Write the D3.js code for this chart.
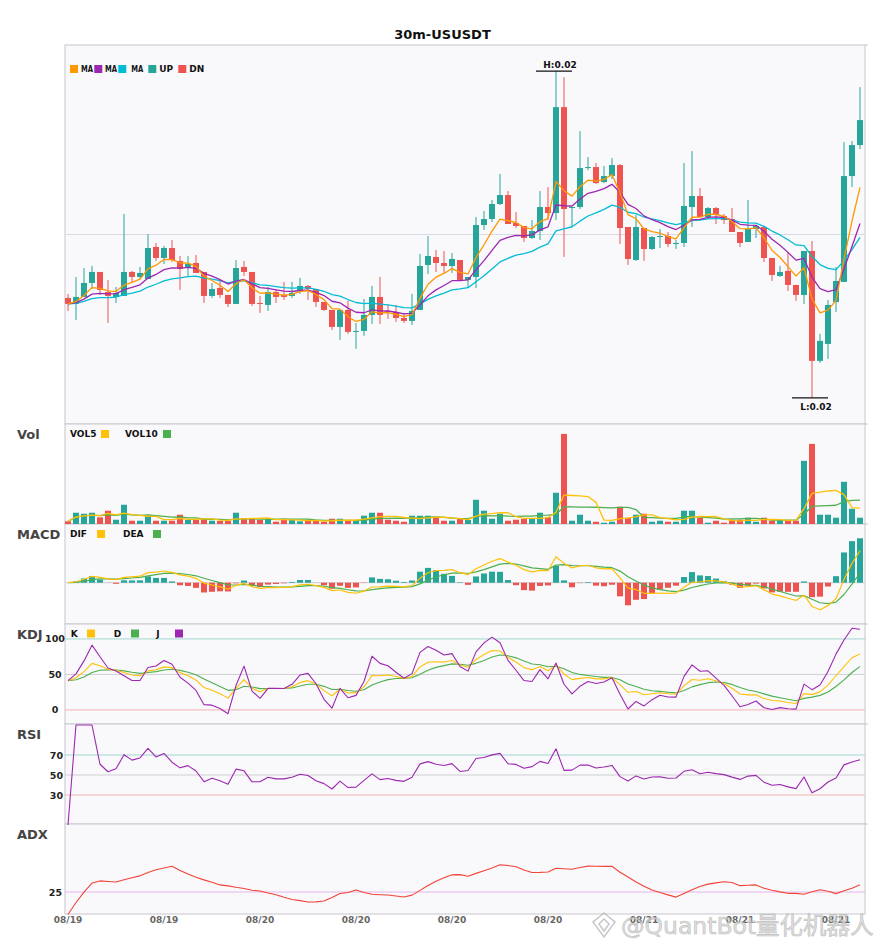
<!DOCTYPE html>
<html>
<head>
<meta charset="utf-8">
<script src="https://cdn.jsdelivr.net/npm/d3@7"></script>
<style>
  body { margin: 0; background: #fff; }
  svg { font-family: "DejaVu Sans", sans-serif; }
</style>
</head>
<body>
<div id="chart"></div>
<script>
const symbol = '30m-USUSDT';

// 30m candles, 08/19 12:00 -> 08/21 17:30
const open = [
  0.01936, 0.01930, 0.01937, 0.01951, 0.01962, 0.01942, 0.01937, 0.01938, 0.01962, 0.01957,
  0.01955, 0.01987, 0.01976, 0.01986, 0.01973, 0.01967, 0.01971, 0.01962, 0.01938, 0.01946,
  0.01939, 0.01930, 0.01967, 0.01962, 0.01931, 0.01929, 0.01942, 0.01939, 0.01938, 0.01943,
  0.01948, 0.01945, 0.01932, 0.01924, 0.01907, 0.01924, 0.01902, 0.01903, 0.01919, 0.01937,
  0.01923, 0.01922, 0.01916, 0.01913, 0.01924, 0.01969, 0.01977, 0.01971, 0.01968, 0.01974,
  0.01954, 0.01957, 0.02009, 0.02015, 0.02030, 0.02039, 0.02011, 0.02008, 0.01996, 0.02003,
  0.02027, 0.02021, 0.02127, 0.02026, 0.02027, 0.02066, 0.02067, 0.02052, 0.02058, 0.02069,
  0.02007, 0.01974, 0.02006, 0.01985, 0.01997, 0.01998, 0.01990, 0.01991, 0.02027, 0.02038,
  0.02017, 0.02026, 0.02018, 0.02015, 0.02002, 0.01992, 0.02005, 0.02007, 0.01976, 0.01958,
  0.01963, 0.01949, 0.01939, 0.01983, 0.01873, 0.01890, 0.01932, 0.01952, 0.02058, 0.02089
];
const high = [
  0.01940, 0.01957, 0.01966, 0.01968, 0.01962, 0.01954, 0.01947, 0.02020, 0.01963, 0.01967,
  0.02000, 0.01991, 0.01988, 0.01994, 0.01978, 0.01978, 0.01979, 0.01962, 0.01951, 0.01954,
  0.01939, 0.01974, 0.01973, 0.01962, 0.01938, 0.01947, 0.01945, 0.01952, 0.01952, 0.01956,
  0.01949, 0.01945, 0.01932, 0.01924, 0.01924, 0.01933, 0.01911, 0.01935, 0.01948, 0.01957,
  0.01929, 0.01929, 0.01921, 0.01940, 0.01980, 0.01998, 0.01984, 0.01983, 0.01981, 0.01974,
  0.01957, 0.02017, 0.02023, 0.02034, 0.02060, 0.02043, 0.02022, 0.02008, 0.02014, 0.02043,
  0.02047, 0.02163, 0.02157, 0.02027, 0.02103, 0.02077, 0.02071, 0.02068, 0.02076, 0.02070,
  0.02007, 0.02019, 0.02006, 0.01998, 0.02005, 0.02002, 0.01994, 0.02071, 0.02083, 0.02046,
  0.02027, 0.02027, 0.02020, 0.02026, 0.02002, 0.02034, 0.02008, 0.02008, 0.01976, 0.01968,
  0.01982, 0.01949, 0.01983, 0.01993, 0.01900, 0.01934, 0.01967, 0.02092, 0.02093, 0.02147
];
const low = [
  0.01923, 0.01914, 0.01937, 0.01945, 0.01939, 0.01911, 0.01931, 0.01938, 0.01952, 0.01955,
  0.01955, 0.01973, 0.01970, 0.01972, 0.01944, 0.01958, 0.01961, 0.01931, 0.01936, 0.01936,
  0.01927, 0.01930, 0.01958, 0.01928, 0.01921, 0.01923, 0.01931, 0.01934, 0.01936, 0.01940,
  0.01934, 0.01927, 0.01923, 0.01904, 0.01894, 0.01900, 0.01885, 0.01898, 0.01910, 0.01910,
  0.01915, 0.01912, 0.01911, 0.01909, 0.01924, 0.01960, 0.01962, 0.01961, 0.01961, 0.01953,
  0.01946, 0.01946, 0.02004, 0.02012, 0.02029, 0.02010, 0.02006, 0.01992, 0.01995, 0.01994,
  0.02014, 0.02014, 0.01977, 0.02008, 0.02025, 0.02064, 0.02050, 0.02051, 0.02055, 0.01990,
  0.01969, 0.01973, 0.01973, 0.01984, 0.01986, 0.01987, 0.01985, 0.01987, 0.02007, 0.02017,
  0.02015, 0.02010, 0.02010, 0.02002, 0.01987, 0.01992, 0.01996, 0.01972, 0.01953, 0.01957,
  0.01943, 0.01933, 0.01930, 0.01836, 0.01871, 0.01875, 0.01922, 0.01952, 0.02047, 0.02085
];
const close = [
  0.01930, 0.01937, 0.01951, 0.01962, 0.01944, 0.01938, 0.01941, 0.01962, 0.01957, 0.01961,
  0.01986, 0.01976, 0.01986, 0.01974, 0.01965, 0.01970, 0.01961, 0.01938, 0.01945, 0.01939,
  0.01930, 0.01966, 0.01962, 0.01930, 0.01930, 0.01942, 0.01937, 0.01937, 0.01941, 0.01948,
  0.01945, 0.01932, 0.01924, 0.01907, 0.01924, 0.01902, 0.01903, 0.01919, 0.01937, 0.01919,
  0.01922, 0.01916, 0.01913, 0.01923, 0.01968, 0.01978, 0.01971, 0.01968, 0.01975, 0.01954,
  0.01957, 0.02009, 0.02015, 0.02030, 0.02039, 0.02010, 0.02008, 0.01996, 0.02003, 0.02027,
  0.02021, 0.02127, 0.02025, 0.02027, 0.02066, 0.02067, 0.02051, 0.02058, 0.02069, 0.02006,
  0.01975, 0.02007, 0.01985, 0.01997, 0.01998, 0.01990, 0.01991, 0.02028, 0.02038, 0.02017,
  0.02026, 0.02019, 0.02014, 0.02002, 0.01991, 0.02005, 0.02008, 0.01976, 0.01959, 0.01962,
  0.01949, 0.01939, 0.01983, 0.01873, 0.01893, 0.01929, 0.01953, 0.02058, 0.02089, 0.02114
];
const volume = [
   27, 113, 103, 113,  67, 133,  43, 193,  33,  33,
   87,  33,  33,  33,  93,  40,  40,  50,  33,  30,
   30, 113,  53,  53,  40,  50,  23,  53,  40,  27,
   30,  30,  23,  53,  53,  30,  30,  83, 113, 113,
   43,  33,  23,  83,  83,  83,  67,  33,  33,  50,
   40, 243, 133,  53, 103,  33,  43,  50,  50, 113,
   67, 313, 903,  33,  93,  33,  23,  13,  23, 173,
   63,  93, 103,  23,  33,  23,  23, 133, 133,  63,
   13,  33,  13,  43,  43,  63,  23,  63,  33,  33,
   33,  33, 633, 803,  93,  93,  63, 423, 153,  63
];
const tickIndex = [0, 12, 24, 36, 48, 60, 72, 84, 96];
const tickLabels = ['08/19', '08/19', '08/20', '08/20', '08/20', '08/20', '08/21', '08/21', '08/21'];

const C = {
  up: '#26a69a', dn: '#ef5350',
  ma5: '#ff9800', ma10: '#9c27b0', ma20: '#00bcd4',
  yellow: '#ffc107', green: '#4caf50', purple: '#9c27b0', red: '#f44336',
  border: '#c6c6ce', bg: '#f9f9fb', grid: '#d9d9e3',
  hiLine: '#9fd6cf', midLine: '#cfcfd4', loLine: '#f6b3b3', adxRef: '#e2b6ea',
};

// ---- indicator helpers ----
function ema(vals, n) {
  const a = 2 / (n + 1);
  let prev;
  return vals.map((v, i) => (prev = i === 0 ? v : prev + a * (v - prev)));
}
function sma(vals, n) {
  return vals.map((_, i) => d3.mean(vals.slice(Math.max(0, i - n + 1), i + 1)));
}

const n = close.length;
const isUp = d3.range(n).map((i) => close[i] >= open[i]);

const ma5 = ema(close, 5);
const ma10 = ema(close, 10);
const ma20 = ema(close, 20);
const vol5 = sma(volume, 5);
const vol10 = sma(volume, 10);

// fast MACD (6, 13, 5)
const eFast = ema(close, 6);
const eSlow = ema(close, 13);
const dif = eFast.map((v, i) => v - eSlow[i]);
const dea = ema(dif, 5);
const hist = dif.map((v, i) => 2 * (v - dea[i]));

// KDJ (9, 3, 3)
const rsv = close.map((c, i) => {
  const hh = d3.max(high.slice(Math.max(0, i - 8), i + 1));
  const ll = d3.min(low.slice(Math.max(0, i - 8), i + 1));
  return hh === ll ? 50 : ((c - ll) / (hh - ll)) * 100;
});
const kLine = [], dLine = [], jLine = [];
rsv.forEach((r, i) => {
  const k = i === 0 ? r : (2 / 3) * kLine[i - 1] + r / 3;
  const d = i === 0 ? k : (2 / 3) * dLine[i - 1] + k / 3;
  kLine.push(k); dLine.push(d); jLine.push(3 * k - 2 * d);
});

// RSI 14 (Wilder)
const rsi = [0];
{
  let ag = 0, al = 0;
  for (let i = 1; i < n; i++) {
    const ch = close[i] - close[i - 1];
    ag += (Math.max(ch, 0) - ag) / 14;
    al += (Math.max(-ch, 0) - al) / 14;
    rsi.push(ag + al === 0 ? 0 : (100 * ag) / (ag + al));
  }
}

// ADX 14 (ema smoothing)
const adx = [0];
{
  const a14 = 2 / 15;
  let tr = 0, pdm = 0, mdm = 0, a = 0;
  for (let i = 1; i < n; i++) {
    const up = high[i] - high[i - 1];
    const dn = low[i - 1] - low[i];
    const p = up > dn && up > 0 ? up : 0;
    const m = dn > up && dn > 0 ? dn : 0;
    const t = Math.max(high[i] - low[i], Math.abs(high[i] - close[i - 1]), Math.abs(low[i] - close[i - 1]));
    tr += a14 * (t - tr); pdm += a14 * (p - pdm); mdm += a14 * (m - mdm);
    const pdi = (pdm / tr) * 100, mdi = (mdm / tr) * 100;
    const dx = pdi + mdi === 0 ? 0 : (Math.abs(pdi - mdi) / (pdi + mdi)) * 100;
    a += a14 * (dx - a);
    adx.push(a);
  }
}

// ---- layout ----
const width = 885, height = 950;
const plotL = 65, plotR = 865;
const panels = {
  main: [45, 424], vol: [424, 524], macd: [524, 624], kdj: [624, 724], rsi: [724, 824], adx: [824, 914],
};

const svg = d3.select('#chart').append('svg').attr('width', width).attr('height', height);

const x = d3.scaleBand().domain(d3.range(n)).range([plotL - 1, plotR - 1]).padding(0);
const xc = (i) => x(i) + x.bandwidth() / 2;
const barW = x.bandwidth() * 0.75;

svg.append('text').attr('x', width / 2).attr('y', 39).attr('text-anchor', 'middle')
  .attr('font-size', 13).attr('font-weight', 'bold').attr('fill', '#111').text(symbol);

Object.entries(panels).forEach(([, [t, b]]) => {
  svg.append('rect').attr('x', plotL).attr('y', t).attr('width', plotR - plotL).attr('height', b - t)
    .attr('fill', C.bg).attr('stroke', C.border).attr('stroke-width', 1);
  svg.append('line').attr('x1', plotR).attr('x2', plotR + 3).attr('y1', t).attr('y2', t)
    .attr('stroke', C.border).attr('stroke-width', 1);
});

const panelNames = [['vol', 'Vol'], ['macd', 'MACD'], ['kdj', 'KDJ'], ['rsi', 'RSI'], ['adx', 'ADX']];
panelNames.forEach(([key, label]) => {
  svg.append('text').attr('x', 17).attr('y', panels[key][0] + 15)
    .attr('font-size', 13).attr('font-weight', 'bold').attr('fill', '#444').text(label);
});

function legend(items, yc) {
  const g = svg.append('g').attr('font-size', 9).attr('font-weight', 'bold').attr('fill', '#111');
  items.forEach((it) => {
    const t = g.append('text').attr('x', it.tx).attr('y', yc + 3.3).text(it.label);
    if (it.fit) t.attr('textLength', it.fit).attr('lengthAdjust', 'spacingAndGlyphs');
    g.append('rect').attr('x', it.sq).attr('y', yc - 4).attr('width', 8).attr('height', 8).attr('fill', it.color);
  });
}

function line(g, vals, y, color, w = 1.1) {
  g.append('path').datum(vals)
    .attr('d', d3.line().x((_, i) => xc(i)).y((v) => y(v)))
    .attr('fill', 'none').attr('stroke', color).attr('stroke-width', w).attr('stroke-linejoin', 'round');
}

function refLine(g, y, v, color) {
  g.append('line').attr('x1', plotL).attr('x2', plotR).attr('y1', y(v)).attr('y2', y(v))
    .attr('stroke', color).attr('stroke-width', 1);
}

// ---- main candle panel ----
{
  const [t, b] = panels.main;
  const lo = d3.min(low), hi = d3.max(high);
  const pad = (hi - lo) * 0.08;
  const y = d3.scaleLinear().domain([lo - pad, hi + pad]).range([b, t]);
  const g = svg.append('g');
  refLine(g, y, (lo + hi) / 2, C.grid);

  const cg = g.append('g');
  d3.range(n).forEach((i) => {
    const col = isUp[i] ? C.up : C.dn;
    cg.append('line').attr('x1', xc(i)).attr('x2', xc(i)).attr('y1', y(high[i])).attr('y2', y(low[i]))
      .attr('stroke', col).attr('stroke-width', 1);
    const top = y(Math.max(open[i], close[i]));
    const bot = y(Math.min(open[i], close[i]));
    cg.append('rect').attr('x', xc(i) - barW / 2).attr('y', top).attr('width', barW)
      .attr('height', Math.max(1, bot - top)).attr('fill', col);
  });

  line(g, ma20, y, C.ma20, 1.3);
  line(g, ma10, y, C.ma10, 1.3);
  line(g, ma5, y, C.ma5, 1.3);

  const hiIdx = d3.maxIndex(high), loIdx = d3.minIndex(low);
  const mark = g.append('g').attr('font-size', 9).attr('font-weight', 'bold').attr('fill', '#111');
  mark.append('line').attr('x1', xc(hiIdx) - 20).attr('x2', xc(hiIdx) + 16)
    .attr('y1', y(high[hiIdx])).attr('y2', y(high[hiIdx])).attr('stroke', '#111').attr('stroke-width', 1.3);
  mark.append('text').attr('x', xc(hiIdx) + 4).attr('y', y(high[hiIdx]) - 3).attr('text-anchor', 'middle')
    .text(`H:${high[hiIdx].toFixed(2)}`);
  mark.append('line').attr('x1', xc(loIdx) - 20).attr('x2', xc(loIdx) + 16)
    .attr('y1', y(low[loIdx])).attr('y2', y(low[loIdx])).attr('stroke', '#111').attr('stroke-width', 1.3);
  mark.append('text').attr('x', xc(loIdx) + 4).attr('y', y(low[loIdx]) + 12).attr('text-anchor', 'middle')
    .text(`L:${low[loIdx].toFixed(2)}`);

  legend([
    { label: 'MA', tx: 81, sq: 70, color: C.ma5, fit: 12 },
    { label: 'MA', tx: 105, sq: 94.3, color: C.ma10, fit: 12 },
    { label: 'MA', tx: 131.3, sq: 118.3, color: C.ma20, fit: 12 },
    { label: 'UP', tx: 159.3, sq: 148.3, color: C.up },
    { label: 'DN', tx: 189.3, sq: 178.3, color: C.dn },
  ], 69);
}

// ---- volume ----
{
  const [t, b] = panels.vol;
  const y = d3.scaleLinear().domain([0, d3.max(volume) * 1.11]).range([b, t]);
  const g = svg.append('g');
  g.selectAll('rect').data(volume).join('rect')
    .attr('x', (_, i) => xc(i) - barW / 2).attr('width', barW)
    .attr('y', (v) => y(v)).attr('height', (v) => y(0) - y(v))
    .attr('fill', (_, i) => (isUp[i] ? C.up : C.dn));
  line(g, vol10, y, C.green, 1.3);
  line(g, vol5, y, C.yellow, 1.3);
  legend([
    { label: 'VOL5', tx: 70, sq: 101, color: C.yellow },
    { label: 'VOL10', tx: 125, sq: 163, color: C.green },
  ], 434);
}

// ---- MACD ----
{
  const [t, b] = panels.macd;
  const ext = d3.extent([...dif, ...dea, ...hist]);
  const span = ext[1] - ext[0];
  const y = d3.scaleLinear().domain([ext[0] - span * 0.2, ext[1] + span * 0.2]).range([b, t]);
  const g = svg.append('g');
  refLine(g, y, 0, C.midLine);
  g.selectAll('rect').data(hist).join('rect')
    .attr('x', (_, i) => xc(i) - barW / 2).attr('width', barW)
    .attr('y', (v) => y(Math.max(0, v))).attr('height', (v) => Math.abs(y(v) - y(0)))
    .attr('fill', (v) => (v >= 0 ? C.up : C.dn));
  line(g, dea, y, C.green, 1.2);
  line(g, dif, y, C.yellow, 1.2);
  legend([
    { label: 'DIF', tx: 70, sq: 97, color: C.yellow },
    { label: 'DEA', tx: 123, sq: 153, color: C.green },
  ], 534);
}

// ---- KDJ ----
{
  const [t, b] = panels.kdj;
  const y = d3.scaleLinear().domain([-19.8, 121]).range([b, t]);
  const g = svg.append('g');
  refLine(g, y, 100, C.hiLine);
  refLine(g, y, 50, C.midLine);
  refLine(g, y, 0, C.loLine);
  line(g, dLine, y, C.green);
  line(g, kLine, y, C.yellow);
  line(g, jLine, y, C.purple);
  const lab = g.append('g').attr('font-size', 9.5).attr('font-weight', 'bold').attr('fill', '#222')
    .attr('text-anchor', 'middle');
  [100, 50, 0].forEach((v) => lab.append('text').attr('x', 55).attr('y', y(v) + 3.5).text(v));
  legend([
    { label: 'K', tx: 70.7, sq: 87, color: C.yellow },
    { label: 'D', tx: 113.7, sq: 131, color: C.green },
    { label: 'J', tx: 156.3, sq: 175, color: C.purple },
  ], 633.5);
}

// ---- RSI ----
{
  const [t, b] = panels.rsi;
  const y = d3.scaleLinear().domain([0, 100]).range([b + 1, t + 1]);
  const g = svg.append('g');
  refLine(g, y, 70, C.hiLine);
  refLine(g, y, 50, C.midLine);
  refLine(g, y, 30, C.loLine);
  line(g, rsi, y, C.purple);
  const lab = g.append('g').attr('font-size', 9.5).attr('font-weight', 'bold').attr('fill', '#222')
    .attr('text-anchor', 'end');
  [70, 50, 30].forEach((v) => lab.append('text').attr('x', 63).attr('y', y(v) + 3.5).text(v));
}

// ---- ADX ----
{
  const [t, b] = panels.adx;
  const y = d3.scaleLinear().domain([0, 100]).range([b + 0.5, t + 0.5]);
  const g = svg.append('g');
  refLine(g, y, 25, C.adxRef);
  line(g, adx, y, C.red);
  g.append('text').attr('x', 62).attr('y', y(25) + 3.5).attr('text-anchor', 'end')
    .attr('font-size', 9.5).attr('font-weight', 'bold').attr('fill', '#222').text(25);
}

// ---- time axis ----
const axis = svg.append('g').attr('transform', `translate(0,${panels.adx[1]})`)
  .call(d3.axisBottom(x).tickValues(tickIndex).tickSize(0).tickPadding(3)
    .tickFormat((d) => tickLabels[tickIndex.indexOf(d)]));
axis.select('.domain').remove();
axis.selectAll('text').attr('font-size', 9).attr('font-weight', 'bold').attr('fill', '#666')
  .attr('font-family', '"DejaVu Sans", sans-serif');

// ---- watermark ----
{
  const wm = svg.append('g').attr('opacity', 0.75);
  const icon = wm.append('g').attr('transform', 'translate(604,925)')
    .attr('fill', 'none').attr('stroke', '#b8b8b8').attr('stroke-width', 1.6);
  icon.append('path').attr('d', 'M0,-12 L11,-3 L0,12 L-11,-3 Z');
  icon.append('path').attr('d', 'M0,-6 L5,-1 L0,6 L-5,-1 Z');
  wm.append('text').attr('x', 621).attr('y', 934)
    .attr('font-family', '"DejaVu Sans", "Noto Sans CJK SC", sans-serif').attr('font-size', 23.5)
    .attr('fill', '#d4d4d4').attr('stroke', '#aaaaaa').attr('stroke-width', 0.6)
    .text('@QuantBot量化机器人');
}
</script>
</body>
</html>
